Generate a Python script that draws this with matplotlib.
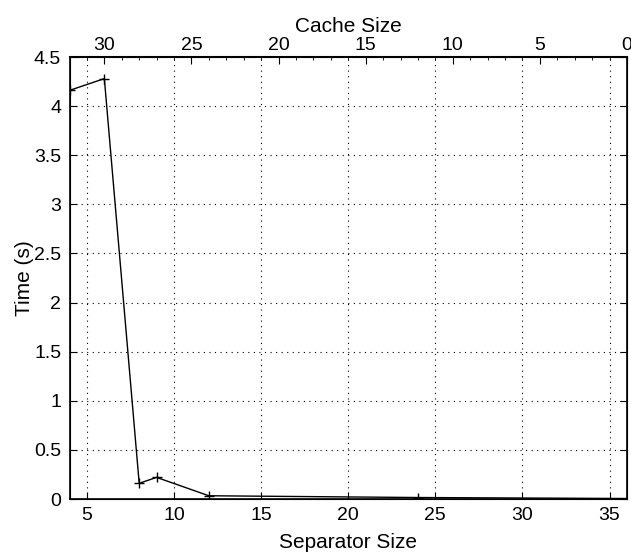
import numpy as np
import matplotlib
matplotlib.use("Agg")
import matplotlib.pyplot as plt

sep_size = [4, 6, 8, 9, 12, 24, 36]
time_s = [4.16, 4.28, 0.16, 0.22, 0.033, 0.015, 0.005]
top_ticks = [30, 25, 20, 15, 10, 5, 0]
total = 36

plt.rcParams['font.family'] = ['Liberation Sans', 'DejaVu Sans']
plt.rcParams['font.size'] = 14

fig = plt.figure(figsize=(6.31, 5.53), dpi=100)
ax = fig.add_axes([69.5/631, 1 - 499/553, (627 - 69.5)/631, (499 - 57)/553])
ax.plot(sep_size, time_s, color='black', lw=1, marker='+', ms=7, mew=1)
ax.set_xlim(4, 36)
ax.set_ylim(0, 4.5)
ax.set_xticks([5, 10, 15, 20, 25, 30, 35])
ax.set_yticks(np.arange(0, 4.51, 0.5))
ax.set_yticklabels(['0', '0.5', '1', '1.5', '2', '2.5', '3', '3.5', '4', '4.5'])
ax.grid(True, color='black', linestyle=(0, (1, 4)), lw=0.8)
ax.tick_params(direction='in', length=5, top=False, right=True, pad=6)
ax.set_xlabel('Separator Size', fontsize=15, labelpad=6)
ax.set_ylabel('Time (s)', fontsize=15, labelpad=0)
for s in ax.spines.values():
    s.set_linewidth(1.2)

top = ax.twiny()
top.set_xlim(ax.get_xlim())
top.set_xticks([total - t for t in top_ticks])
top.set_xticklabels([str(t) for t in top_ticks])
top.set_xticks(np.arange(4, 37, 1), minor=True)
top.tick_params(direction='in', length=5, pad=2)
top.tick_params(which='minor', direction='in', length=2.5)
top.set_xlabel('Cache Size', fontsize=15, labelpad=4)
top.spines['top'].set_linewidth(1.5)

fig.savefig('out.png', dpi=100)
